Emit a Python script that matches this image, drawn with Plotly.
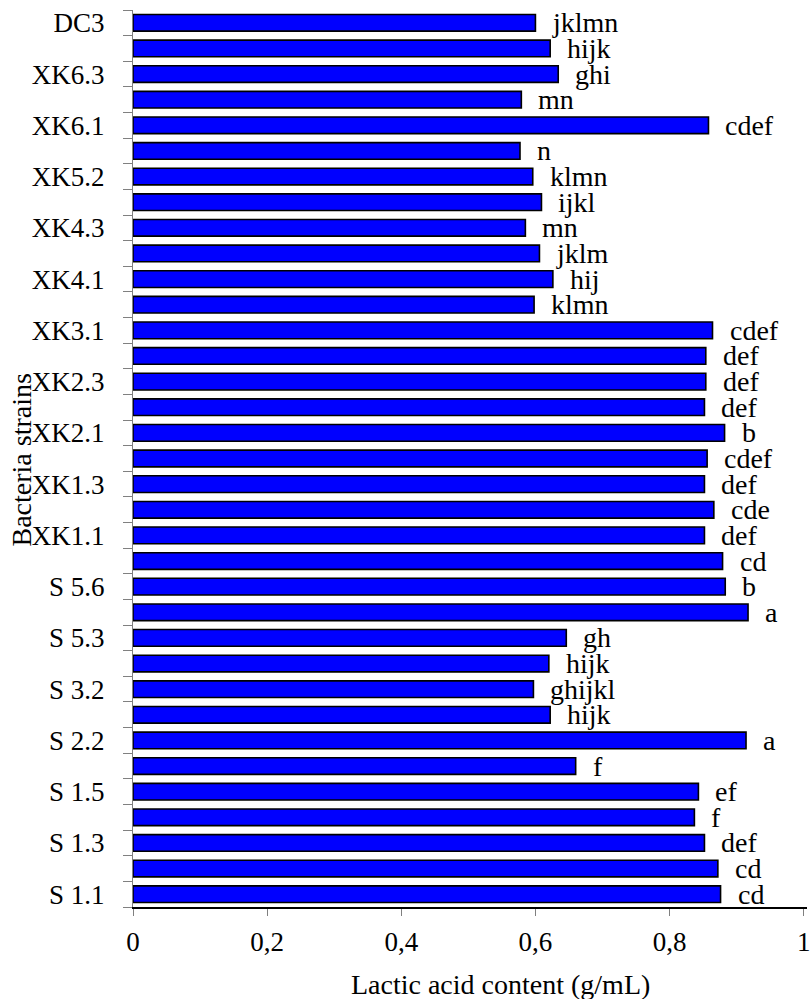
import plotly.graph_objects as go

# Strains listed bottom to top, with lactic acid content (g/mL) and significance letters
strains = [
    "S 1.1", "S 1.2", "S 1.3", "S 1.4", "S 1.5", "S 2.1", "S 2.2", "S 3.1", "S 3.2",
    "S 5.2", "S 5.3", "S 5.4", "S 5.6", "S 5.7",
    "XK1.1", "XK1.2", "XK1.3", "XK1.4", "XK2.1", "XK2.2", "XK2.3", "XK2.4",
    "XK3.1", "XK3.2", "XK4.1", "XK4.2", "XK4.3", "XK5.1", "XK5.2", "XK5.3",
    "XK6.1", "XK6.2", "XK6.3", "DC1", "DC3",
]
lactic_acid = [
    0.876, 0.872, 0.852, 0.837, 0.843, 0.660, 0.914, 0.622, 0.597,
    0.620, 0.646, 0.917, 0.883, 0.879,
    0.852, 0.866, 0.852, 0.856, 0.882, 0.852, 0.854, 0.854,
    0.864, 0.598, 0.626, 0.606, 0.585, 0.609, 0.596, 0.577,
    0.858, 0.579, 0.634, 0.622, 0.600,
]
letters = [
    "cd", "cd", "def", "f", "ef", "f", "a", "hijk", "ghijkl",
    "hijk", "gh", "a", "b", "cd",
    "def", "cde", "def", "cdef", "b", "def", "def", "def",
    "cdef", "klmn", "hij", "jklm", "mn", "ijkl", "klmn", "n",
    "cdef", "mn", "ghi", "hijk", "jklmn",
]
x_ticks = [0, 0.2, 0.4, 0.6, 0.8, 1]
x_tick_text = ["0", "0,2", "0,4", "0,6", "0,8", "1"]

FONT = "Times New Roman, Liberation Serif, DejaVu Serif, serif"
pos = list(range(len(strains)))

# plot area in pixels
L, R, T, B = 133, 810, 10, 907
W_PX, H_PX = 810, 999

fig = go.Figure(
    go.Bar(
        x=lactic_acid,
        y=pos,
        orientation="h",
        width=0.65,
        marker=dict(color="#0000FF", line=dict(color="black", width=1.6)),
        hovertext=strains,
        showlegend=False,
    )
)

# significance letters to the right of each bar
for p, v, t in zip(pos, lactic_acid, letters):
    fig.add_annotation(
        x=v, y=p, text=t, showarrow=False,
        xanchor="left", yanchor="middle", xshift=15,
        font=dict(family=FONT, size=28, color="black"),
    )

# axis titles, placed in paper coordinates
fig.add_annotation(
    x=(502 - L) / (R - L), y=-(984 - B) / (B - T),
    xref="paper", yref="paper", xanchor="center", yanchor="middle",
    text="Lactic acid content (g/mL)",
    showarrow=False, font=dict(family=FONT, size=28, color="black"),
)
fig.add_annotation(
    x=(21 - L) / (R - L), y=(B - 460) / (B - T),
    xref="paper", yref="paper", xanchor="center", yanchor="middle",
    text="Bacteria strains", textangle=-90,
    showarrow=False, font=dict(family=FONT, size=28, color="black"),
)

fig.update_layout(
    width=W_PX, height=H_PX,
    margin=dict(l=L, r=W_PX - R, t=T, b=H_PX - B),
    plot_bgcolor="white", paper_bgcolor="white",
    font=dict(family=FONT, size=27, color="black"),
    bargap=0.3,
)

fig.update_xaxes(
    range=[0, 1.0049], tickmode="array", tickvals=x_ticks, ticktext=x_tick_text,
    showline=True, linecolor="black", linewidth=1.6,
    ticks="outside", ticklen=7, tickcolor="#808080", tickwidth=1,
    ticklabelstandoff=3, ticklabeloverflow="allow",
    showgrid=False, zeroline=False,
    tickfont=dict(family=FONT, size=27),
)
fig.update_yaxes(
    range=[-0.5, len(strains) - 0.5],
    tickmode="array", tickvals=pos[::2], ticktext=strains[::2],
    ticks="", ticklabelstandoff=22,
    minor=dict(tickmode="array", tickvals=[p - 0.5 for p in pos] + [len(pos) - 0.5],
               ticks="outside", ticklen=9, tickcolor="#808080", tickwidth=1,
               showgrid=False),
    showline=True, linecolor="#808080", linewidth=1,
    showgrid=False, zeroline=False,
    tickfont=dict(family=FONT, size=27),
)

fig.write_html("out.html")
